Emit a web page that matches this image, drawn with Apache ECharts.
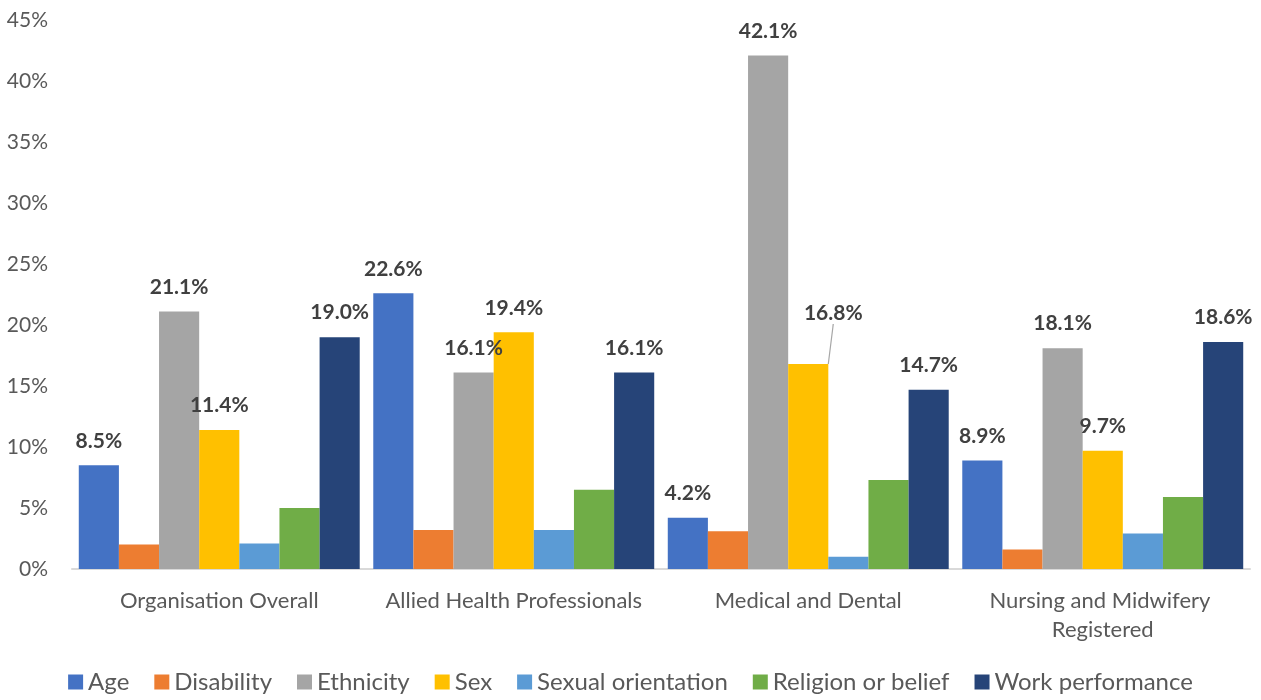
<!DOCTYPE html>
<html>
<head>
<meta charset="utf-8">
<script src="https://cdn.jsdelivr.net/npm/echarts@6/dist/echarts.min.js"></script>
<style>
html,body{margin:0;padding:0;background:#fff;}
#chart{width:1261px;height:700px;}
</style>
</head>
<body>
<div id="chart"></div>
<script>
const categories = ['Organisation Overall', 'Allied Health Professionals', 'Medical and Dental', 'Nursing and Midwifery Registered'];
const seriesNames = ['Age', 'Disability', 'Ethnicity', 'Sex', 'Sexual orientation', 'Religion or belief', 'Work performance'];
const age = [8.5, 22.6, 4.2, 8.9];
const disability = [2.0, 3.2, 3.1, 1.6];
const ethnicity = [21.1, 16.1, 42.1, 18.1];
const sex = [11.4, 19.4, 16.8, 9.7];
const sexualOrientation = [2.1, 3.2, 1.0, 2.9];
const religion = [5.0, 6.5, 7.3, 5.9];
const workPerformance = [19.0, 16.1, 14.7, 18.6];
const yTicks = [0, 5, 10, 15, 20, 25, 30, 35, 40, 45];

const colors = ['#4472C4', '#ED7D31', '#A5A5A5', '#FFC000', '#5B9BD5', '#70AD47', '#264478'];
const values = [age, disability, ethnicity, sex, sexualOrientation, religion, workPerformance];
const labelled = [true, false, true, true, false, false, true];
const FONT = 'Lato';

const chart = echarts.init(document.getElementById('chart'));
const series = seriesNames.map((name, i) => {
  let data = values[i];
  if (name === 'Sex') {
    data = values[i].map((v, j) => j === 2 ? { value: v, labelLine: { show: true } } : { value: v, labelLine: { show: false } });
  }
  const s = {
    name: name,
    type: 'bar',
    data: data,
    barGap: '0%',
    barCategoryGap: '4.6%',
    itemStyle: { color: colors[i] },
    label: {
      show: labelled[i],
      position: 'top',
      distance: 14,
      fontFamily: FONT,
      fontSize: 21,
      fontWeight: 'bold',
      color: '#404040',
      formatter: p => p.value.toFixed(1) + '%'
    }
  };
  if (name === 'Sex') {
    s.labelLayout = function (params) {
      if (params.dataIndex === 2) return { dx: 25, dy: -26 };
      return {};
    };
    s.labelLine = { show: false, lineStyle: { color: '#a6a6a6', width: 1.2 } };
  }
  return s;
});

chart.setOption({
  backgroundColor: '#fff',
  animation: false,
  color: colors,
  grid: { left: 72, right: 11, top: 20, bottom: 131, containLabel: false },
  legend: {
    bottom: 1,
    left: 'center',
    itemWidth: 15,
    itemHeight: 15,
    itemGap: 25,
    icon: 'rect',
    textStyle: { fontFamily: FONT, fontSize: 24, color: '#595959' },
    data: seriesNames
  },
  xAxis: {
    type: 'category',
    data: categories,
    axisLine: { lineStyle: { color: '#d9d9d9', width: 2 } },
    axisTick: { show: false },
    axisLabel: {
      fontFamily: FONT,
      fontSize: 22,
      color: '#595959',
      margin: 17,
      lineHeight: 29,
      width: 285,
      overflow: 'break',
      interval: 0
    }
  },
  yAxis: {
    type: 'value',
    min: yTicks[0],
    max: yTicks[yTicks.length - 1],
    interval: 5,
    splitLine: { show: false },
    axisLine: { show: false },
    axisTick: { show: false },
    axisLabel: {
      fontFamily: FONT,
      fontSize: 21,
      color: '#595959',
      margin: 24,
      formatter: '{value}%'
    }
  },
  series: series
});
</script>
</body>
</html>
